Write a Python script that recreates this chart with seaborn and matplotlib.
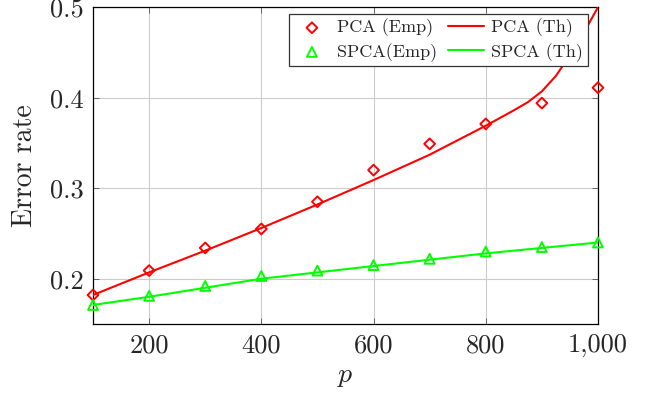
import numpy as np
import pandas as pd
import matplotlib
matplotlib.use('Agg')
import matplotlib.pyplot as plt
import matplotlib.ticker as mticker
import seaborn as sns

# data
p_emp = [100, 200, 300, 400, 500, 600, 700, 800, 900, 1000]
pca_emp = [0.182, 0.209, 0.234, 0.255, 0.285, 0.320, 0.349, 0.371, 0.394, 0.411]
spca_emp = [0.171, 0.181, 0.192, 0.203, 0.209, 0.215, 0.222, 0.230, 0.235, 0.240]

p_th_pca = [100, 200, 300, 400, 500, 600, 700, 800, 850, 875, 900, 925, 950, 975, 1000]
pca_th = [0.182, 0.207, 0.231, 0.256, 0.282, 0.309, 0.337, 0.369, 0.386, 0.395, 0.407, 0.424, 0.447, 0.472, 0.500]
p_th_spca = [100, 200, 300, 400, 500, 600, 700, 800, 900, 1000]
spca_th = [0.171, 0.180, 0.190, 0.200, 0.207, 0.214, 0.221, 0.228, 0.234, 0.240]

x_ticks = [200, 400, 600, 800, 1000]
y_ticks = [0.2, 0.3, 0.4, 0.5]

RED = '#ff0000'
GREEN = '#00ff00'

sns.set_style('white')
plt.rcParams['font.family'] = 'serif'
plt.rcParams['font.serif'] = ['cmr10', 'DejaVu Serif']
plt.rcParams['mathtext.fontset'] = 'cm'
plt.rcParams['axes.unicode_minus'] = False

fig = plt.figure(figsize=(6.49, 3.98), dpi=100)
ax = fig.add_axes([0.1433, 0.186, 0.7781, 0.796])

sns.lineplot(x=p_th_pca, y=pca_th, ax=ax, color=RED, lw=1.5, label='PCA (Th)', zorder=3)
sns.lineplot(x=p_th_spca, y=spca_th, ax=ax, color=GREEN, lw=1.5, label='SPCA (Th)', zorder=3)
sns.scatterplot(x=p_emp, y=pca_emp, ax=ax, marker='D', s=30, facecolor='none',
                edgecolor=RED, linewidth=1.4, label='PCA (Emp)', zorder=4, clip_on=False)
sns.scatterplot(x=p_emp, y=spca_emp, ax=ax, marker='^', s=50, facecolor='none',
                edgecolor=GREEN, linewidth=1.4, label='SPCA(Emp)', zorder=4, clip_on=False)

ax.set_xlim(100, 1000)
ax.set_ylim(0.15, 0.5)
ax.set_xticks(x_ticks)
ax.set_yticks(y_ticks)
ax.xaxis.set_major_formatter(mticker.FuncFormatter(lambda v, _: f'{int(v):,}'))
ax.yaxis.set_major_formatter(mticker.FuncFormatter(lambda v, _: f'{v:.1f}'))
ax.tick_params(direction='in', length=4, width=0.6, color='#555555',
               labelsize=19, top=True, right=True, bottom=True, left=True, pad=7)
ax.grid(True, color='#cccccc', lw=0.8)
for s in ax.spines.values():
    s.set_color('black')
    s.set_linewidth(0.9)

ax.set_xlabel('$p$', fontsize=20, labelpad=4)
ax.set_ylabel('Error rate', fontsize=20, labelpad=8)

h, l = ax.get_legend_handles_labels()
order = ['PCA (Emp)', 'SPCA(Emp)', 'PCA (Th)', 'SPCA (Th)']
hd = dict(zip(l, h))
leg = ax.legend([hd[k] for k in order], order, ncol=2, loc='upper right',
                bbox_to_anchor=(0.980, 0.978), borderaxespad=0, fontsize=13,
                frameon=True, fancybox=False, edgecolor='#333333', framealpha=1,
                borderpad=0.25, handlelength=2.0, columnspacing=0.6,
                handletextpad=0.4, labelspacing=0.3)
leg.get_frame().set_linewidth(0.9)

fig.savefig('out.png', dpi=100)
